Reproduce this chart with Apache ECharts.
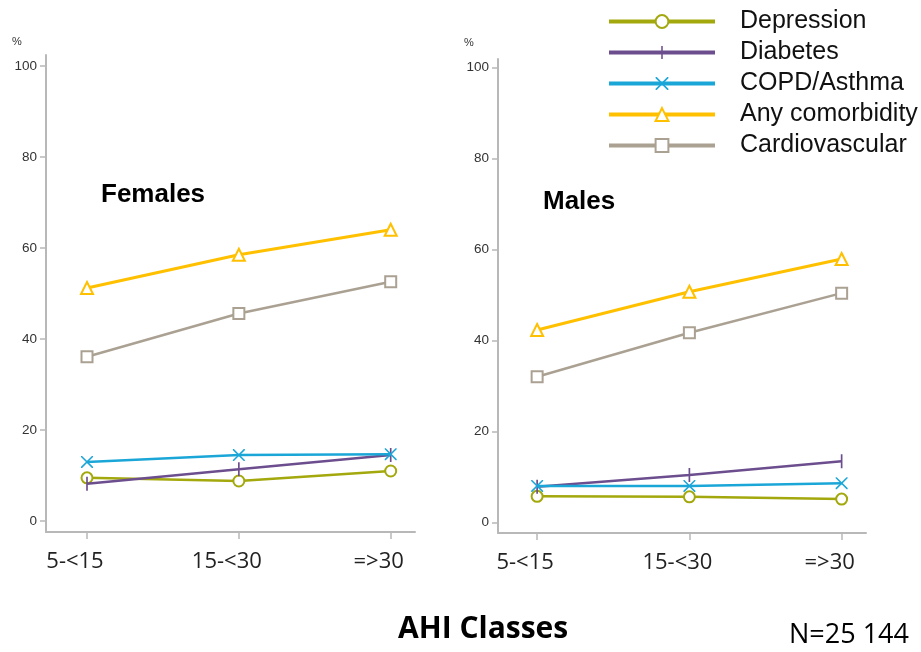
<!DOCTYPE html>
<html><head><meta charset="utf-8">
<script src="https://cdn.jsdelivr.net/npm/echarts@6/dist/echarts.min.js"></script>
<style>html,body{margin:0;padding:0;background:#fff}#c{width:921px;height:652px}</style>
</head><body><div id="c"></div>
<script>
const categories = ['5-<15', '15-<30', '=>30'];
const seriesNames = ['Depression', 'Diabetes', 'COPD/Asthma', 'Any comorbidity', 'Cardiovascular'];
const yTicks = [0, 20, 40, 60, 80, 100];
// Females
const femDepression = [9.5, 8.8, 11.0];
const femDiabetes = [8.2, 11.4, 14.5];
const femCOPD = [13.0, 14.5, 14.7];
const femAny = [51.2, 58.5, 64.0];
const femCardio = [36.1, 45.6, 52.6];
// Males
const maleDepression = [5.7, 5.6, 5.1];
const maleDiabetes = [7.8, 10.4, 13.4];
const maleCOPD = [8.0, 8.0, 8.6];
const maleAny = [42.3, 50.7, 57.9];
const maleCardio = [32.0, 41.7, 50.4];

const colors = ['#a3a80c', '#6c4e8e', '#1ba6d8', '#ffc000', '#aaa192'];
const symbols = [
  'emptyCircle',
  'path://M0,0 L0.01,0 L0,0.01 Z M9.99,10 L10,10 L10,9.99 Z M4.4,0 L5.6,0 L5.6,10 L4.4,10 Z',
  'path://M0,0 L0.9,0 L10,9.1 L10,10 L9.1,10 L0,0.9 Z M10,0 L10,0.9 L0.9,10 L0,10 L0,9.1 L9.1,0 Z',
  'emptyTriangle',
  'emptyRect'
];
const symSizes = [11, 14, 12, 12, 11];
const borders = [1.5, 0, 0, 1.5, 1.5];
const widths = [2.5, 2.5, 2.5, 3, 2.5];

const femData = [femDepression, femDiabetes, femCOPD, femAny, femCardio];
const maleData = [maleDepression, maleDiabetes, maleCOPD, maleAny, maleCardio];

function mkSeries(arr, idx) {
  return arr.map((vals, i) => ({
    name: seriesNames[i], type: 'line', xAxisIndex: idx, yAxisIndex: idx,
    data: vals.map((v, j) => [j, v]),
    symbol: symbols[i], symbolSize: symSizes[i], showAllSymbol: true,
    lineStyle: { color: colors[i], width: widths[i] },
    itemStyle: { color: colors[i], borderColor: colors[i], borderWidth: borders[i] },
    emphasis: { disabled: true }, animation: false, z: 2 + i
  }));
}

function xAx(idx, min, max) {
  return {
    type: 'value', gridIndex: idx, min: min, max: max,
    splitLine: { show: false },
    axisLine: { show: true, onZero: false, lineStyle: { color: '#b8b8b8', width: 2 } },
    axisTick: { show: true, length: 7, customValues: [0, 1, 2], lineStyle: { color: '#b8b8b8', width: 1.5 } },
    axisLabel: { customValues: [0, 1, 2], formatter: v => categories[Math.round(v)], margin: 19,
      padding: [0, 24, 0, 0],
      fontFamily: 'Open Sans', fontSize: 22, color: '#222' }
  };
}
function yAx(idx, min, max) {
  return {
    type: 'value', gridIndex: idx, min: min, max: max,
    splitLine: { show: false },
    axisLine: { show: true, onZero: false, lineStyle: { color: '#b8b8b8', width: 2 } },
    axisTick: { show: true, length: 6, customValues: yTicks, lineStyle: { color: '#b8b8b8', width: 1.5 } },
    axisLabel: { customValues: yTicks, margin: 9, fontFamily: 'Liberation Sans', fontSize: 13.5, color: '#333' }
  };
}

const chart = echarts.init(document.getElementById('c'), null, { renderer: 'canvas' });
chart.setOption({
  animation: false,
  backgroundColor: '#fff',
  grid: [
    { left: 46, top: 55, width: 369, height: 477 },
    { left: 498, top: 59, width: 368, height: 474 }
  ],
  xAxis: [xAx(0, -0.27, 2.16), xAx(1, -0.257, 2.16)],
  yAxis: [yAx(0, -2.4, 102.4), yAx(1, -2.36, 101.9)],
  legend: {
    data: seriesNames, orient: 'vertical', left: 602, top: 4,
    itemWidth: 106, itemHeight: 16, itemGap: 6,
    lineStyle: { width: 4 },
    textStyle: { fontFamily: 'Liberation Sans', fontSize: 25, lineHeight: 24, color: '#111', padding: [0, 0, 0, 20] },
    selectedMode: false
  },
  series: mkSeries(femData, 0).concat(mkSeries(maleData, 1)),
  graphic: [
    { type: 'text', left: 12, top: 36, style: { text: '%', fontFamily: 'Liberation Sans', fontSize: 11, fill: '#333' } },
    { type: 'text', left: 464, top: 37, style: { text: '%', fontFamily: 'Liberation Sans', fontSize: 11, fill: '#333' } },
    { type: 'text', left: 101, top: 182, style: { text: 'Females', fontFamily: 'Liberation Sans', fontWeight: 'bold', fontSize: 26, fill: '#000' } },
    { type: 'text', left: 543, top: 189, style: { text: 'Males', fontFamily: 'Liberation Sans', fontWeight: 'bold', fontSize: 26, fill: '#000' } },
    { type: 'text', left: 398, top: 614, style: { text: 'AHI Classes', fontFamily: 'Open Sans', fontWeight: 'bold', fontSize: 30, fill: '#000' } },
    { type: 'text', left: 789, top: 622, style: { text: 'N=25 144', fontFamily: 'Open Sans', fontSize: 27, fill: '#000' } }
  ]
});
</script></body></html>
